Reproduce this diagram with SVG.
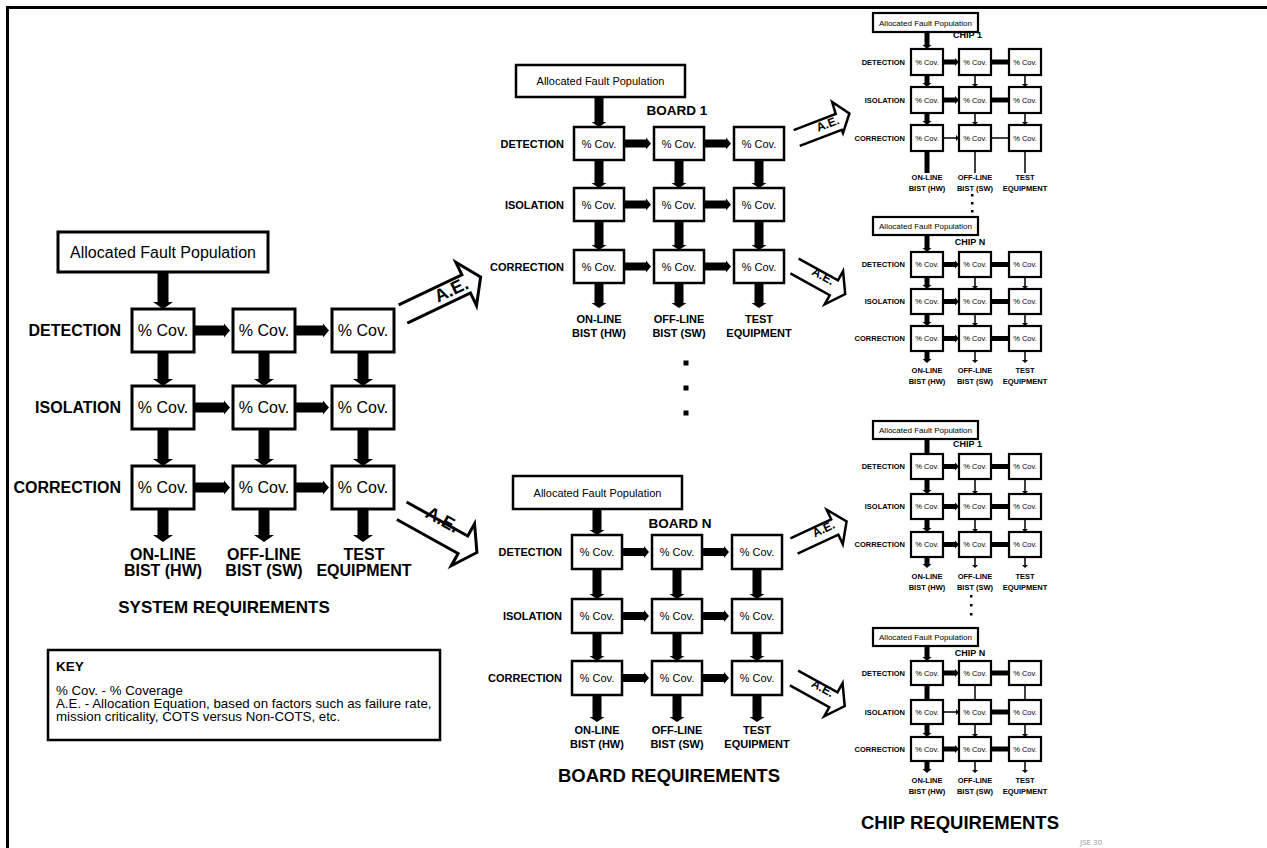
<svg xmlns="http://www.w3.org/2000/svg" width="1267" height="848" viewBox="0 0 1267 848">
<style>
text{font-family:"Liberation Sans",Arial,Helvetica,sans-serif;fill:#000}
.m{text-anchor:middle}.e{text-anchor:end}.b{font-weight:bold}
.bx{fill:#fff;stroke:#000}
.w3{stroke-width:3}.w25{stroke-width:2.5}.w2{stroke-width:2.2}
.f16{font-size:16px}.f11{font-size:11px}.f8{font-size:8px}.f75{font-size:7.5px}
.h17{font-size:17px;font-weight:bold}.h18{font-size:18.5px;font-weight:bold}
.ae polyline{fill:none;stroke:#000;stroke-width:3;stroke-linejoin:miter}
.ae.sm polyline{stroke-width:2.5}
.dot{fill:#000}
.kt{font-size:13.3px}
</style>

<!-- page frame -->
<path d="M7.5,848V7.5H1267" fill="none" stroke="#000" stroke-width="3"/>

<!-- ===== system level ===== -->
<g id="system">
  <g id="sys-afp"><rect class="bx w3" x="58" y="232" width="210" height="40"/><text class="m f16" x="163" y="257.5">Allocated Fault Population</text></g>
  <g id="sys-det-hw"><rect class="bx w3" x="132" y="309" width="62" height="43"/><text class="m f16" x="163" y="336">% Cov.</text></g>
  <g id="sys-det-sw"><rect class="bx w3" x="233" y="309" width="62" height="43"/><text class="m f16" x="264" y="336">% Cov.</text></g>
  <g id="sys-det-te"><rect class="bx w3" x="332" y="309" width="62" height="43"/><text class="m f16" x="363" y="336">% Cov.</text></g>
  <g id="sys-iso-hw"><rect class="bx w3" x="132" y="386" width="62" height="43"/><text class="m f16" x="163" y="413">% Cov.</text></g>
  <g id="sys-iso-sw"><rect class="bx w3" x="233" y="386" width="62" height="43"/><text class="m f16" x="264" y="413">% Cov.</text></g>
  <g id="sys-iso-te"><rect class="bx w3" x="332" y="386" width="62" height="43"/><text class="m f16" x="363" y="413">% Cov.</text></g>
  <g id="sys-cor-hw"><rect class="bx w3" x="132" y="466" width="62" height="43"/><text class="m f16" x="163" y="493">% Cov.</text></g>
  <g id="sys-cor-sw"><rect class="bx w3" x="233" y="466" width="62" height="43"/><text class="m f16" x="264" y="493">% Cov.</text></g>
  <g id="sys-cor-te"><rect class="bx w3" x="332" y="466" width="62" height="43"/><text class="m f16" x="363" y="493">% Cov.</text></g>
  <g class="b f16">
    <text class="e" x="121" y="336">DETECTION</text>
    <text class="e" x="121" y="413">ISOLATION</text>
    <text class="e" x="121" y="493">CORRECTION</text>
    <text class="m" x="163" y="560">ON-LINE</text><text class="m" x="163" y="576">BIST (HW)</text>
    <text class="m" x="264" y="560">OFF-LINE</text><text class="m" x="264" y="576">BIST (SW)</text>
    <text class="m" x="364" y="560">TEST</text><text class="m" x="364" y="576">EQUIPMENT</text>
  </g>
  <text class="m h17" x="224" y="613">SYSTEM REQUIREMENTS</text>
</g>

<!-- ===== board 1 ===== -->
<g id="board1">
  <g id="b1-afp"><rect class="bx w25" x="516" y="65" width="169" height="32"/><text class="m f11" x="600.5" y="85">Allocated Fault Population</text></g>
  <g id="b1-det-hw"><rect class="bx w25" x="574" y="127" width="50" height="33"/><text class="m f11" x="599" y="147.5">% Cov.</text></g>
  <g id="b1-det-sw"><rect class="bx w25" x="654" y="127" width="50" height="33"/><text class="m f11" x="679" y="147.5">% Cov.</text></g>
  <g id="b1-det-te"><rect class="bx w25" x="734" y="127" width="50" height="33"/><text class="m f11" x="759" y="147.5">% Cov.</text></g>
  <g id="b1-iso-hw"><rect class="bx w25" x="574" y="188" width="50" height="33"/><text class="m f11" x="599" y="208.5">% Cov.</text></g>
  <g id="b1-iso-sw"><rect class="bx w25" x="654" y="188" width="50" height="33"/><text class="m f11" x="679" y="208.5">% Cov.</text></g>
  <g id="b1-iso-te"><rect class="bx w25" x="734" y="188" width="50" height="33"/><text class="m f11" x="759" y="208.5">% Cov.</text></g>
  <g id="b1-cor-hw"><rect class="bx w25" x="574" y="250" width="50" height="33"/><text class="m f11" x="599" y="270.5">% Cov.</text></g>
  <g id="b1-cor-sw"><rect class="bx w25" x="654" y="250" width="50" height="33"/><text class="m f11" x="679" y="270.5">% Cov.</text></g>
  <g id="b1-cor-te"><rect class="bx w25" x="734" y="250" width="50" height="33"/><text class="m f11" x="759" y="270.5">% Cov.</text></g>
  <text class="m b" style="font-size:13.5px" x="677" y="115">BOARD 1</text>
  <g class="b f11">
    <text class="e" x="564" y="147.5">DETECTION</text>
    <text class="e" x="564" y="208.5">ISOLATION</text>
    <text class="e" x="564" y="270.5">CORRECTION</text>
    <text class="m" x="599" y="323">ON-LINE</text><text class="m" x="599" y="337">BIST (HW)</text>
    <text class="m" x="679" y="323">OFF-LINE</text><text class="m" x="679" y="337">BIST (SW)</text>
    <text class="m" x="759" y="323">TEST</text><text class="m" x="759" y="337">EQUIPMENT</text>
  </g>
</g>

<!-- ellipsis between boards -->
<g id="board-gap">
  <rect class="dot" x="683.5" y="360.5" width="5" height="5"/>
  <rect class="dot" x="683.5" y="385.5" width="5" height="5"/>
  <rect class="dot" x="683.5" y="410.5" width="5" height="5"/>
</g>

<!-- ===== board N ===== -->
<g id="boardN">
  <g id="bn-afp"><rect class="bx w25" x="513" y="476" width="169" height="33"/><text class="m f11" x="597.5" y="496.5">Allocated Fault Population</text></g>
  <g id="bn-det-hw"><rect class="bx w25" x="572" y="535" width="50" height="34"/><text class="m f11" x="597" y="556">% Cov.</text></g>
  <g id="bn-det-sw"><rect class="bx w25" x="652" y="535" width="50" height="34"/><text class="m f11" x="677" y="556">% Cov.</text></g>
  <g id="bn-det-te"><rect class="bx w25" x="732" y="535" width="50" height="34"/><text class="m f11" x="757" y="556">% Cov.</text></g>
  <g id="bn-iso-hw"><rect class="bx w25" x="572" y="599" width="50" height="34"/><text class="m f11" x="597" y="620">% Cov.</text></g>
  <g id="bn-iso-sw"><rect class="bx w25" x="652" y="599" width="50" height="34"/><text class="m f11" x="677" y="620">% Cov.</text></g>
  <g id="bn-iso-te"><rect class="bx w25" x="732" y="599" width="50" height="34"/><text class="m f11" x="757" y="620">% Cov.</text></g>
  <g id="bn-cor-hw"><rect class="bx w25" x="572" y="661" width="50" height="34"/><text class="m f11" x="597" y="682">% Cov.</text></g>
  <g id="bn-cor-sw"><rect class="bx w25" x="652" y="661" width="50" height="34"/><text class="m f11" x="677" y="682">% Cov.</text></g>
  <g id="bn-cor-te"><rect class="bx w25" x="732" y="661" width="50" height="34"/><text class="m f11" x="757" y="682">% Cov.</text></g>
  <text class="m b" style="font-size:13.5px" x="680" y="528">BOARD N</text>
  <g class="b f11">
    <text class="e" x="562" y="556">DETECTION</text>
    <text class="e" x="562" y="620">ISOLATION</text>
    <text class="e" x="562" y="682">CORRECTION</text>
    <text class="m" x="597" y="734">ON-LINE</text><text class="m" x="597" y="748">BIST (HW)</text>
    <text class="m" x="677" y="734">OFF-LINE</text><text class="m" x="677" y="748">BIST (SW)</text>
    <text class="m" x="757" y="734">TEST</text><text class="m" x="757" y="748">EQUIPMENT</text>
  </g>
  <text class="m h18" x="669" y="782">BOARD REQUIREMENTS</text>
</g>

<!-- ===== chip 1 (board 1) ===== -->
<g id="chip1a" class="chip">
  <g id="c1a-afp"><rect class="bx w2" x="873" y="13" width="105" height="19"/><text class="m f8" x="925.5" y="25.5">Allocated Fault Population</text></g>
  <g id="c1a-det-hw"><rect class="bx w2" x="911" y="49" width="32" height="26"/><text class="m f75" x="927" y="64.7">% Cov.</text></g>
  <g id="c1a-det-sw"><rect class="bx w2" x="959" y="49" width="32" height="26"/><text class="m f75" x="975" y="64.7">% Cov.</text></g>
  <g id="c1a-det-te"><rect class="bx w2" x="1009" y="49" width="32" height="26"/><text class="m f75" x="1025" y="64.7">% Cov.</text></g>
  <g id="c1a-iso-hw"><rect class="bx w2" x="911" y="87" width="32" height="26"/><text class="m f75" x="927" y="102.7">% Cov.</text></g>
  <g id="c1a-iso-sw"><rect class="bx w2" x="959" y="87" width="32" height="26"/><text class="m f75" x="975" y="102.7">% Cov.</text></g>
  <g id="c1a-iso-te"><rect class="bx w2" x="1009" y="87" width="32" height="26"/><text class="m f75" x="1025" y="102.7">% Cov.</text></g>
  <g id="c1a-cor-hw"><rect class="bx w2" x="911" y="125" width="32" height="26"/><text class="m f75" x="927" y="140.7">% Cov.</text></g>
  <g id="c1a-cor-sw"><rect class="bx w2" x="959" y="125" width="32" height="26"/><text class="m f75" x="975" y="140.7">% Cov.</text></g>
  <g id="c1a-cor-te"><rect class="bx w2" x="1009" y="125" width="32" height="26"/><text class="m f75" x="1025" y="140.7">% Cov.</text></g>
  <text class="m b" style="font-size:9px" x="967.5" y="38">CHIP 1</text>
  <g class="b f75">
    <text class="e" x="905" y="64.7">DETECTION</text>
    <text class="e" x="905" y="102.7">ISOLATION</text>
    <text class="e" x="905" y="140.7">CORRECTION</text>
    <text class="m" x="927" y="180">ON-LINE</text><text class="m" x="927" y="191">BIST (HW)</text>
    <text class="m" x="975" y="180">OFF-LINE</text><text class="m" x="975" y="191">BIST (SW)</text>
    <text class="m" x="1025" y="180">TEST</text><text class="m" x="1025" y="191">EQUIPMENT</text>
  </g>
  <rect class="dot" x="971" y="194" width="2.5" height="2.5"/>
  <rect class="dot" x="971" y="202" width="2.5" height="2.5"/>
  <rect class="dot" x="971" y="210" width="2.5" height="2.5"/>
</g>

<!-- ===== chip N (board 1) ===== -->
<g id="chipNa" class="chip">
  <g id="cna-afp"><rect class="bx w2" x="873" y="217" width="105" height="18"/><text class="m f8" x="925.5" y="229">Allocated Fault Population</text></g>
  <g id="cna-det-hw"><rect class="bx w2" x="911" y="252" width="32" height="25"/><text class="m f75" x="927" y="267.2">% Cov.</text></g>
  <g id="cna-det-sw"><rect class="bx w2" x="959" y="252" width="32" height="25"/><text class="m f75" x="975" y="267.2">% Cov.</text></g>
  <g id="cna-det-te"><rect class="bx w2" x="1009" y="252" width="32" height="25"/><text class="m f75" x="1025" y="267.2">% Cov.</text></g>
  <g id="cna-iso-hw"><rect class="bx w2" x="911" y="289" width="32" height="25"/><text class="m f75" x="927" y="304.2">% Cov.</text></g>
  <g id="cna-iso-sw"><rect class="bx w2" x="959" y="289" width="32" height="25"/><text class="m f75" x="975" y="304.2">% Cov.</text></g>
  <g id="cna-iso-te"><rect class="bx w2" x="1009" y="289" width="32" height="25"/><text class="m f75" x="1025" y="304.2">% Cov.</text></g>
  <g id="cna-cor-hw"><rect class="bx w2" x="911" y="326" width="32" height="25"/><text class="m f75" x="927" y="341.2">% Cov.</text></g>
  <g id="cna-cor-sw"><rect class="bx w2" x="959" y="326" width="32" height="25"/><text class="m f75" x="975" y="341.2">% Cov.</text></g>
  <g id="cna-cor-te"><rect class="bx w2" x="1009" y="326" width="32" height="25"/><text class="m f75" x="1025" y="341.2">% Cov.</text></g>
  <text class="m b" style="font-size:9px" x="970" y="245">CHIP N</text>
  <g class="b f75">
    <text class="e" x="905" y="267.2">DETECTION</text>
    <text class="e" x="905" y="304.2">ISOLATION</text>
    <text class="e" x="905" y="341.2">CORRECTION</text>
    <text class="m" x="927" y="373">ON-LINE</text><text class="m" x="927" y="384">BIST (HW)</text>
    <text class="m" x="975" y="373">OFF-LINE</text><text class="m" x="975" y="384">BIST (SW)</text>
    <text class="m" x="1025" y="373">TEST</text><text class="m" x="1025" y="384">EQUIPMENT</text>
  </g>
</g>

<!-- ===== chip 1 (board N) ===== -->
<g id="chip1b" class="chip">
  <g id="c1b-afp"><rect class="bx w2" x="873" y="421" width="105" height="18"/><text class="m f8" x="925.5" y="433">Allocated Fault Population</text></g>
  <g id="c1b-det-hw"><rect class="bx w2" x="911" y="454" width="32" height="25"/><text class="m f75" x="927" y="469.2">% Cov.</text></g>
  <g id="c1b-det-sw"><rect class="bx w2" x="959" y="454" width="32" height="25"/><text class="m f75" x="975" y="469.2">% Cov.</text></g>
  <g id="c1b-det-te"><rect class="bx w2" x="1009" y="454" width="32" height="25"/><text class="m f75" x="1025" y="469.2">% Cov.</text></g>
  <g id="c1b-iso-hw"><rect class="bx w2" x="911" y="494" width="32" height="25"/><text class="m f75" x="927" y="509.2">% Cov.</text></g>
  <g id="c1b-iso-sw"><rect class="bx w2" x="959" y="494" width="32" height="25"/><text class="m f75" x="975" y="509.2">% Cov.</text></g>
  <g id="c1b-iso-te"><rect class="bx w2" x="1009" y="494" width="32" height="25"/><text class="m f75" x="1025" y="509.2">% Cov.</text></g>
  <g id="c1b-cor-hw"><rect class="bx w2" x="911" y="532" width="32" height="25"/><text class="m f75" x="927" y="547.2">% Cov.</text></g>
  <g id="c1b-cor-sw"><rect class="bx w2" x="959" y="532" width="32" height="25"/><text class="m f75" x="975" y="547.2">% Cov.</text></g>
  <g id="c1b-cor-te"><rect class="bx w2" x="1009" y="532" width="32" height="25"/><text class="m f75" x="1025" y="547.2">% Cov.</text></g>
  <text class="m b" style="font-size:9px" x="967.5" y="447">CHIP 1</text>
  <g class="b f75">
    <text class="e" x="905" y="469.2">DETECTION</text>
    <text class="e" x="905" y="509.2">ISOLATION</text>
    <text class="e" x="905" y="547.2">CORRECTION</text>
    <text class="m" x="927" y="579">ON-LINE</text><text class="m" x="927" y="590">BIST (HW)</text>
    <text class="m" x="975" y="579">OFF-LINE</text><text class="m" x="975" y="590">BIST (SW)</text>
    <text class="m" x="1025" y="579">TEST</text><text class="m" x="1025" y="590">EQUIPMENT</text>
  </g>
  <rect class="dot" x="970" y="595" width="2.5" height="2.5"/>
  <rect class="dot" x="970" y="604" width="2.5" height="2.5"/>
  <rect class="dot" x="970" y="613" width="2.5" height="2.5"/>
</g>

<!-- ===== chip N (board N) ===== -->
<g id="chipNb" class="chip">
  <g id="cnb-afp"><rect class="bx w2" x="873" y="628" width="105" height="18"/><text class="m f8" x="925.5" y="640">Allocated Fault Population</text></g>
  <g id="cnb-det-hw"><rect class="bx w2" x="911" y="661" width="32" height="24"/><text class="m f75" x="927" y="675.7">% Cov.</text></g>
  <g id="cnb-det-sw"><rect class="bx w2" x="959" y="661" width="32" height="24"/><text class="m f75" x="975" y="675.7">% Cov.</text></g>
  <g id="cnb-det-te"><rect class="bx w2" x="1009" y="661" width="32" height="24"/><text class="m f75" x="1025" y="675.7">% Cov.</text></g>
  <g id="cnb-iso-hw"><rect class="bx w2" x="911" y="700" width="32" height="24"/><text class="m f75" x="927" y="714.7">% Cov.</text></g>
  <g id="cnb-iso-sw"><rect class="bx w2" x="959" y="700" width="32" height="24"/><text class="m f75" x="975" y="714.7">% Cov.</text></g>
  <g id="cnb-iso-te"><rect class="bx w2" x="1009" y="700" width="32" height="24"/><text class="m f75" x="1025" y="714.7">% Cov.</text></g>
  <g id="cnb-cor-hw"><rect class="bx w2" x="911" y="737" width="32" height="24"/><text class="m f75" x="927" y="751.7">% Cov.</text></g>
  <g id="cnb-cor-sw"><rect class="bx w2" x="959" y="737" width="32" height="24"/><text class="m f75" x="975" y="751.7">% Cov.</text></g>
  <g id="cnb-cor-te"><rect class="bx w2" x="1009" y="737" width="32" height="24"/><text class="m f75" x="1025" y="751.7">% Cov.</text></g>
  <text class="m b" style="font-size:9px" x="970" y="656">CHIP N</text>
  <g class="b f75">
    <text class="e" x="905" y="675.7">DETECTION</text>
    <text class="e" x="905" y="714.7">ISOLATION</text>
    <text class="e" x="905" y="751.7">CORRECTION</text>
    <text class="m" x="927" y="783">ON-LINE</text><text class="m" x="927" y="794">BIST (HW)</text>
    <text class="m" x="975" y="783">OFF-LINE</text><text class="m" x="975" y="794">BIST (SW)</text>
    <text class="m" x="1025" y="783">TEST</text><text class="m" x="1025" y="794">EQUIPMENT</text>
  </g>
  <text class="m h18" x="960" y="829">CHIP REQUIREMENTS</text>
</g>

<!-- ===== connectors ===== -->
<g id="connectors" fill="#000">
  <g id="sys-links">
    <path d="M157.5,272v30h-4.5l10,7l10,-7h-4.5v-30z"/>
    <path d="M157.5,352v27h-4.5l10,7l10,-7h-4.5v-27z"/>
    <path d="M258.5,352v27h-4.5l10,7l10,-7h-4.5v-27z"/>
    <path d="M357.5,352v27h-4.5l10,7l10,-7h-4.5v-27z"/>
    <path d="M157.5,429v30h-4.5l10,7l10,-7h-4.5v-30z"/>
    <path d="M258.5,429v30h-4.5l10,7l10,-7h-4.5v-30z"/>
    <path d="M357.5,429v30h-4.5l10,7l10,-7h-4.5v-30z"/>
    <path d="M157.5,509v26h-4.5l10,7l10,-7h-4.5v-26z"/>
    <path d="M258.5,509v26h-4.5l10,7l10,-7h-4.5v-26z"/>
    <path d="M357.5,509v26h-4.5l10,7l10,-7h-4.5v-26z"/>
    <path d="M194,325.5h30v-2l6,7l-6,7v-2h-30z"/>
    <path d="M295,325.5h28v-2l6,7l-6,7v-2h-28z"/>
    <path d="M194,402.5h30v-2l6,7l-6,7v-2h-30z"/>
    <path d="M295,402.5h28v-2l6,7l-6,7v-2h-28z"/>
    <path d="M194,482.5h30v-2l6,7l-6,7v-2h-30z"/>
    <path d="M295,482.5h28v-2l6,7l-6,7v-2h-28z"/>
  </g>
  <g id="b1-links">
    <path d="M594.5,97v25h-3l7.5,5l7.5,-5h-3v-25z"/>
    <path d="M594.5,160v23h-3l7.5,5l7.5,-5h-3v-23z"/>
    <path d="M674.5,160v23h-3l7.5,5l7.5,-5h-3v-23z"/>
    <path d="M754.5,160v23h-3l7.5,5l7.5,-5h-3v-23z"/>
    <path d="M594.5,221v24h-3l7.5,5l7.5,-5h-3v-24z"/>
    <path d="M674.5,221v24h-3l7.5,5l7.5,-5h-3v-24z"/>
    <path d="M754.5,221v24h-3l7.5,5l7.5,-5h-3v-24z"/>
    <path d="M594.5,283v20h-3l7.5,5l7.5,-5h-3v-20z"/>
    <path d="M674.5,283v20h-3l7.5,5l7.5,-5h-3v-20z"/>
    <path d="M754.5,283v20h-3l7.5,5l7.5,-5h-3v-20z"/>
    <path d="M624,139.5h22v-2l5,6l-5,6v-2h-22z"/>
    <path d="M704,139.5h22v-2l5,6l-5,6v-2h-22z"/>
    <path d="M624,200.5h22v-2l5,6l-5,6v-2h-22z"/>
    <path d="M704,200.5h22v-2l5,6l-5,6v-2h-22z"/>
    <path d="M624,262.5h22v-2l5,6l-5,6v-2h-22z"/>
    <path d="M704,262.5h22v-2l5,6l-5,6v-2h-22z"/>
  </g>
  <g id="bn-links">
    <path d="M592.5,509v21h-3l7.5,5l7.5,-5h-3v-21z"/>
    <path d="M592.5,569v25h-3l7.5,5l7.5,-5h-3v-25z"/>
    <path d="M672.5,569v25h-3l7.5,5l7.5,-5h-3v-25z"/>
    <path d="M752.5,569v25h-3l7.5,5l7.5,-5h-3v-25z"/>
    <path d="M592.5,633v23h-3l7.5,5l7.5,-5h-3v-23z"/>
    <path d="M672.5,633v23h-3l7.5,5l7.5,-5h-3v-23z"/>
    <path d="M752.5,633v23h-3l7.5,5l7.5,-5h-3v-23z"/>
    <path d="M592.5,695v22h-3l7.5,5l7.5,-5h-3v-22z"/>
    <path d="M672.5,695v22h-3l7.5,5l7.5,-5h-3v-22z"/>
    <path d="M752.5,695v22h-3l7.5,5l7.5,-5h-3v-22z"/>
    <path d="M622,548h22v-2l5,6l-5,6v-2h-22z"/>
    <path d="M702,548h22v-2l5,6l-5,6v-2h-22z"/>
    <path d="M622,612h22v-2l5,6l-5,6v-2h-22z"/>
    <path d="M702,612h22v-2l5,6l-5,6v-2h-22z"/>
    <path d="M622,674h22v-2l5,6l-5,6v-2h-22z"/>
    <path d="M702,674h22v-2l5,6l-5,6v-2h-22z"/>
  </g>
  <g id="c1a-links">
    <path d="M924.5,32v13h-2l4.5,4l4.5,-4h-2v-13z"/>
    <path d="M924.5,75v8h-2l4.5,4l4.5,-4h-2v-8z"/>
    <path d="M974.25,75v9h-2.25l3,3l3,-3h-2.25v-9z"/>
    <path d="M1024.25,75v9h-2.25l3,3l3,-3h-2.25v-9z"/>
    <path d="M924.5,113v8h-2l4.5,4l4.5,-4h-2v-8z"/>
    <path d="M974.25,113v9h-2.25l3,3l3,-3h-2.25v-9z"/>
    <path d="M1024.25,113v9h-2.25l3,3l3,-3h-2.25v-9z"/>
    <path d="M924.5,151h5v22h-5z"/>
    <path d="M974.25,151h1.5v22h-1.5z"/>
    <path d="M1024.25,151h1.5v22h-1.5z"/>
    <path d="M943,59.5h12v-1.5l4,4l-4,4v-1.5h-12z"/>
    <path d="M991,59.5h18v5h-18z"/>
    <path d="M943,97.5h12v-1.5l4,4l-4,4v-1.5h-12z"/>
    <path d="M991,97.5h18v5h-18z"/>
    <path d="M943,137.25h13v-2.25l3,3l-3,3v-2.25h-13z"/>
    <path d="M991,137.25h18v1.5h-18z"/>
  </g>
  <g id="cna-links">
    <path d="M924.5,235v13h-2l4.5,4l4.5,-4h-2v-13z"/>
    <path d="M924.5,277v8h-2l4.5,4l4.5,-4h-2v-8z"/>
    <path d="M974.25,277v9h-2.25l3,3l3,-3h-2.25v-9z"/>
    <path d="M1024.25,277v9h-2.25l3,3l3,-3h-2.25v-9z"/>
    <path d="M924.5,314v8h-2l4.5,4l4.5,-4h-2v-8z"/>
    <path d="M974.25,314v9h-2.25l3,3l3,-3h-2.25v-9z"/>
    <path d="M1024.25,314v9h-2.25l3,3l3,-3h-2.25v-9z"/>
    <path d="M924.5,351v8h-2l4.5,4l4.5,-4h-2v-8z"/>
    <path d="M974.25,351v9h-2.25l3,3l3,-3h-2.25v-9z"/>
    <path d="M1024.25,351v9h-2.25l3,3l3,-3h-2.25v-9z"/>
    <path d="M943,262h12v-1.5l4,4l-4,4v-1.5h-12z"/>
    <path d="M991,262h18v5h-18z"/>
    <path d="M943,299h12v-1.5l4,4l-4,4v-1.5h-12z"/>
    <path d="M991,299h18v5h-18z"/>
    <path d="M943,336h12v-1.5l4,4l-4,4v-1.5h-12z"/>
    <path d="M991,336h18v5h-18z"/>
  </g>
  <g id="c1b-links">
    <path d="M924.5,439h5v15h-5z"/>
    <path d="M924.5,479v11h-2l4.5,4l4.5,-4h-2v-11z"/>
    <path d="M974.25,479v12h-2.25l3,3l3,-3h-2.25v-12z"/>
    <path d="M1024.25,479v12h-2.25l3,3l3,-3h-2.25v-12z"/>
    <path d="M924.5,519v9h-2l4.5,4l4.5,-4h-2v-9z"/>
    <path d="M974.25,519v10h-2.25l3,3l3,-3h-2.25v-10z"/>
    <path d="M1024.25,519v10h-2.25l3,3l3,-3h-2.25v-10z"/>
    <path d="M924.5,557v7h-2l4.5,4l4.5,-4h-2v-7z"/>
    <path d="M974.25,557v8h-2.25l3,3l3,-3h-2.25v-8z"/>
    <path d="M1024.25,557v8h-2.25l3,3l3,-3h-2.25v-8z"/>
    <path d="M943,464h12v-1.5l4,4l-4,4v-1.5h-12z"/>
    <path d="M991,464h18v5h-18z"/>
    <path d="M943,504h12v-1.5l4,4l-4,4v-1.5h-12z"/>
    <path d="M991,504h18v5h-18z"/>
    <path d="M943,542h12v-1.5l4,4l-4,4v-1.5h-12z"/>
    <path d="M991,542h18v5h-18z"/>
  </g>
  <g id="cnb-links">
    <path d="M924.5,646v11h-2l4.5,4l4.5,-4h-2v-11z"/>
    <path d="M924.5,685h5v15h-5z"/>
    <path d="M974.25,685h1.5v15h-1.5z"/>
    <path d="M1024.25,685h1.5v15h-1.5z"/>
    <path d="M924.5,724v9h-2l4.5,4l4.5,-4h-2v-9z"/>
    <path d="M974.25,724v10h-2.25l3,3l3,-3h-2.25v-10z"/>
    <path d="M1024.25,724v10h-2.25l3,3l3,-3h-2.25v-10z"/>
    <path d="M924.5,761v8h-2l4.5,4l4.5,-4h-2v-8z"/>
    <path d="M974.25,761v9h-2.25l3,3l3,-3h-2.25v-9z"/>
    <path d="M1024.25,761v9h-2.25l3,3l3,-3h-2.25v-9z"/>
    <path d="M943,670.5h12v-1.5l4,4l-4,4v-1.5h-12z"/>
    <path d="M991,670.5h18v5h-18z"/>
    <path d="M943,711.25h13v-2.25l3,3l-3,3v-2.25h-13z"/>
    <path d="M991,709.5h18v5h-18z"/>
    <path d="M943,746.5h12v-1.5l4,4l-4,4v-1.5h-12z"/>
    <path d="M991,746.5h18v5h-18z"/>
  </g>
  <!-- allocation-equation arrows -->
  <g id="ae-links">
    <g class="ae" transform="translate(403,314) rotate(-25.5)">
      <polyline points="0,-10 70,-10 70,-24 86,0 70,24 70,10 0,10"/>
      <text class="m b" style="font-size:18px" x="54" y="5">A.E.</text>
    </g>
    <g class="ae" transform="translate(401.7,510.8) rotate(29)">
      <polyline points="0,-10 70,-10 70,-24 86,0 70,24 70,10 0,10"/>
      <text class="m b" style="font-size:18px" x="40" y="-6">A.E.</text>
    </g>
    <g class="ae sm" transform="translate(796.7,138) rotate(-21)">
      <polyline points="0,-8.5 45,-8.5 46,-21 58,-4 45,12 45,8.5 0,8.5"/>
      <text class="m b" style="font-size:12px" x="34" y="2">A.E.</text>
    </g>
    <g class="ae sm" transform="translate(794.5,266) rotate(29)">
      <polyline points="0,-8.5 45,-8.5 45,-19 58,0 45,19 45,8.5 0,8.5"/>
      <text class="m b" style="font-size:12px" x="30" y="-1">A.E.</text>
    </g>
    <g class="ae sm" transform="translate(794,546) rotate(-25)">
      <polyline points="0,-8.5 45,-8.5 45,-19 58,0 45,19 45,8.5 0,8.5"/>
      <text class="m b" style="font-size:12px" x="34" y="1">A.E.</text>
    </g>
    <g class="ae sm" transform="translate(794,678) rotate(29)">
      <polyline points="0,-8.5 45,-8.5 45,-19 58,0 45,19 45,8.5 0,8.5"/>
      <text class="m b" style="font-size:12px" x="30" y="-1">A.E.</text>
    </g>
  </g>
</g>

<!-- ===== key ===== -->
<g id="key">
  <rect x="48" y="650" width="392" height="90" fill="#fff" stroke="#000" stroke-width="2.5"/>
  <text class="b" style="font-size:13.5px" x="56" y="671">KEY</text>
  <text class="kt" x="56" y="695">% Cov. - % Coverage</text>
  <text class="kt" x="56" y="708">A.E. - Allocation Equation, based on factors such as failure rate,</text>
  <text class="kt" x="56" y="721">mission criticality, COTS versus Non-COTS, etc.</text>
</g>

<text x="1080" y="845" style="font-family:'Open Sans','Noto Sans',sans-serif;font-size:8px;fill:#999">JSE 30</text>
</svg>
